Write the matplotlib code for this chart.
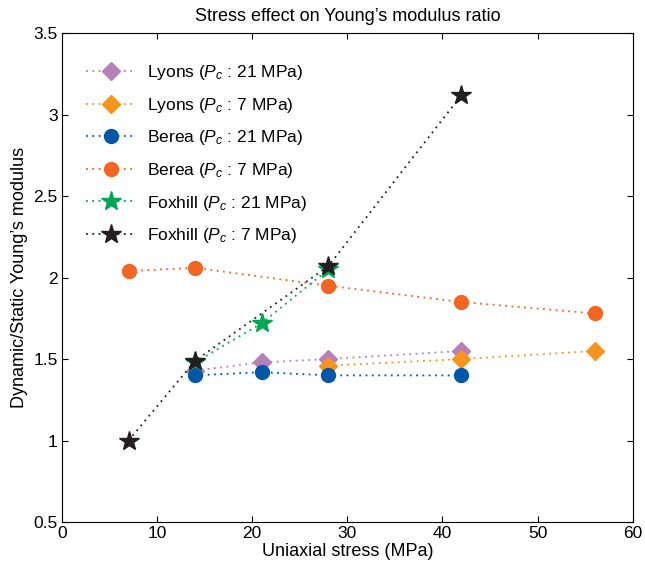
import matplotlib
matplotlib.use("Agg")
import matplotlib.pyplot as plt

plt.rcParams["font.family"] = ["Liberation Sans", "DejaVu Sans"]
plt.rcParams["mathtext.fontset"] = "custom"
plt.rcParams["mathtext.it"] = "Liberation Sans:italic"
plt.rcParams["mathtext.rm"] = "Liberation Sans"

# uniaxial stress (MPa) and dynamic/static Young's modulus ratio per sample
lyons21_x = [14, 21, 28, 42]
lyons21_y = [1.43, 1.48, 1.50, 1.55]
lyons7_x = [28, 42, 56]
lyons7_y = [1.46, 1.50, 1.55]
berea21_x = [14, 21, 28, 42]
berea21_y = [1.40, 1.42, 1.40, 1.40]
berea7_x = [7, 14, 28, 42, 56]
berea7_y = [2.04, 2.06, 1.95, 1.85, 1.78]
foxhill21_x = [14, 21, 28]
foxhill21_y = [1.48, 1.72, 2.05]
foxhill7_x = [7, 14, 28, 42]
foxhill7_y = [1.00, 1.49, 2.07, 3.12]

series = [
    ("Lyons", "21", lyons21_x, lyons21_y, "D", "#b77fb9", 9),
    ("Lyons", "7", lyons7_x, lyons7_y, "D", "#f7941d", 9),
    ("Berea", "21", berea21_x, berea21_y, "o", "#0057a8", 10),
    ("Berea", "7", berea7_x, berea7_y, "o", "#f26522", 10),
    ("Foxhill", "21", foxhill21_x, foxhill21_y, "*", "#00a651", 15),
    ("Foxhill", "7", foxhill7_x, foxhill7_y, "*", "#231f20", 15),
]

fig = plt.figure(figsize=(6.45, 5.7), dpi=100)
ax = fig.add_axes([0.096, 0.084, 0.885, 0.858])

for name, pc, xs, ys, mk, col, ms in series:
    ax.plot(xs, ys, linestyle=(0, (1, 2.5)), color=col, marker=mk, markersize=ms,
            markeredgecolor=col, linewidth=1.3,
            label=name + r" ($P_c$ : " + pc + " MPa)")

ax.set_xlim(0, 60)
ax.set_ylim(0.5, 3.5)
ax.set_xticks(range(0, 61, 10))
ax.set_yticks([0.5, 1, 1.5, 2, 2.5, 3, 3.5])
ax.set_yticklabels(["0.5", "1", "1.5", "2", "2.5", "3", "3.5"])
ax.tick_params(direction="in", labelsize=12.5, length=4, top=True, right=True, pad=3)
ax.set_xlabel("Uniaxial stress (MPa)", fontsize=13, labelpad=1)
ax.set_ylabel("Dynamic/Static Young\u2019s modulus", fontsize=13, labelpad=4)
ax.set_title("Stress effect on Young\u2019s modulus ratio", fontsize=13, pad=9)

ax.legend(loc="upper left", frameon=False, fontsize=12.5, handlelength=2.9,
          handletextpad=0.6, labelspacing=0.78, bbox_to_anchor=(0.015, 0.97))

fig.savefig("out.png", dpi=100)
